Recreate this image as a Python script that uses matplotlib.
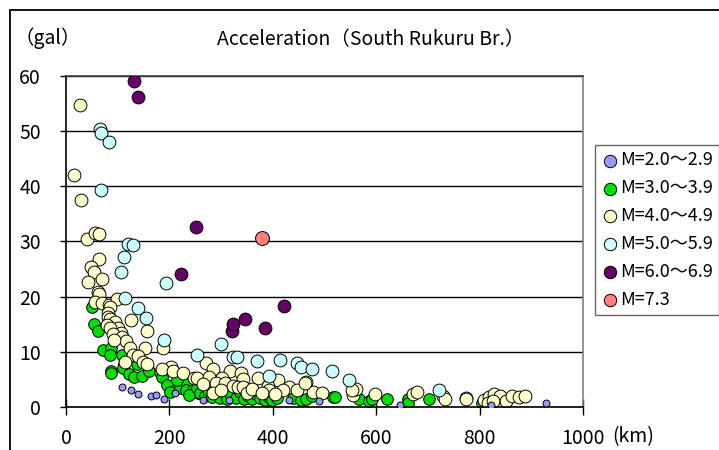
import matplotlib.pyplot as plt
from matplotlib.patches import Rectangle

# Fonts: Japanese gothic look, with fallback for plain latin glyphs:
plt.rcParams['font.family'] = ['Noto Sans CJK JP', 'DejaVu Sans']

# Distance (km) and acceleration (gal), one pair of lists per magnitude class:
m2_x = [108, 125, 139, 165, 174, 190, 211, 265, 316, 431, 490, 646, 823, 928]
m2_y = [3.7, 3.0, 2.4, 1.9, 2.2, 1.5, 2.5, 1.3, 1.3, 1.3, 1.1, 0.4, 0.4, 0.7]

m3_x = [50, 54, 61, 71, 88, 85, 109, 137, 113, 110, 88, 87, 122, 132, 147, 160, 182, 185,
        195, 201, 220, 232, 232, 215, 256, 245, 238, 253, 260, 268, 275, 282, 290, 298, 305,
        312, 320, 328, 336, 344, 352, 360, 368, 376, 384, 392, 398, 408, 440, 455, 465, 475,
        517, 521, 567, 587, 592, 620, 661, 661, 702, 805]
m3_y = [18.1, 15.0, 13.8, 10.3, 10.6, 9.5, 9.4, 7.7, 7.7, 7.1, 6.5, 6.2, 5.9, 5.5, 5.6, 6.6, 6.4, 5.5,
        4.0, 2.8, 3.4, 4.4, 3.1, 4.9, 2.5, 3.0, 2.2, 3.5, 2.5, 2.0, 3.0, 1.8, 2.5, 1.6, 2.8,
        1.5, 2.2, 1.7, 2.8, 1.5, 2.0, 1.4, 2.3, 1.6, 1.2, 1.8, 1.2, 1.6, 1.6, 1.3, 1.5, 1.9,
        1.8, 1.8, 1.4, 1.1, 1.4, 1.5, 1.4, 0.8, 1.4, 0.7]

m4_x = [28, 16, 29, 41, 56, 64, 64, 48, 55, 70, 42, 61, 64, 56, 70, 83, 99, 85, 81, 82, 85,
        126, 95, 80, 101, 86, 157, 107, 91, 109, 117, 93, 188, 153, 124, 129, 139, 149, 157,
        114, 203, 185, 207, 227, 248, 270, 285, 318, 338, 254, 276, 301, 343, 372, 411, 464,
        265, 291, 307, 432, 447, 478, 391, 392, 323, 332, 343, 420, 462, 495, 555, 560, 553,
        598, 671, 678, 730, 734, 774, 774, 808, 819, 828, 839, 852, 863, 877, 888, 816, 826,
        285, 300, 350, 360, 380, 405]
m4_y = [54.8, 42.0, 37.5, 30.4, 31.5, 31.4, 26.8, 25.3, 24.5, 23.2, 22.7, 20.9, 20.5, 19.1, 18.9,
        18.5, 19.5, 18.2, 17.1, 16.4, 15.9, 15.7, 15.4, 14.9, 14.4, 14.3, 13.8, 13.5, 13.2, 12.6,
        12.0, 12.1, 10.6, 10.6, 10.6, 9.4, 9.2, 8.1, 7.7, 8.2, 7.3, 6.8, 6.5, 6.1, 5.3, 7.9, 6.8,
        6.5, 6.1, 5.3, 5.4, 5.3, 5.1, 5.2, 4.9, 4.5, 4.2, 4.3, 4.3, 3.7, 3.1, 2.8, 3.8, 3.1, 3.8,
        3.7, 3.6, 3.1, 4.3, 2.5, 2.2, 3.2, 3.0, 2.3, 2.4, 2.7, 2.0, 1.4, 1.7, 1.4, 1.3, 1.8, 2.4,
        2.0, 1.0, 2.0, 1.8, 1.9, 0.8, 1.0, 2.6, 3.0, 2.6, 3.3, 2.6, 2.4]

m5_x = [66, 67, 83, 68, 120, 130, 112, 106, 193, 115, 139, 154, 190, 253, 299, 323, 330, 370,
        414, 446, 455, 475, 392, 515, 547, 721]
m5_y = [50.4, 49.6, 48.0, 39.3, 29.5, 29.3, 27.2, 24.5, 22.5, 19.8, 18.0, 16.1, 12.1, 9.4, 11.5,
        9.0, 9.0, 8.4, 8.5, 7.9, 7.3, 6.9, 5.6, 6.6, 4.8, 3.1]

m6_x = [131, 139, 222, 251, 321, 324, 346, 385, 422]
m6_y = [59.0, 56.2, 24.1, 32.6, 13.8, 15.0, 16.0, 14.3, 18.3]

m7_x = [379]
m7_y = [30.6]

labels = ['M=2.0～2.9', 'M=3.0～3.9', 'M=4.0～4.9', 'M=5.0～5.9', 'M=6.0～6.9', 'M=7.3']
colors = ['#9999FF', '#00E000', '#FFFFCC', '#CCFFFF', '#660066', '#FF8080']

fig = plt.figure(figsize=(7.19, 4.5), dpi=100)
ax = fig.add_axes([0.0918, 0.0956, 0.7190, 0.7356])

# Draw order: green at the back, then yellow, cyan, blue, purple, red:
series = [(m2_x, m2_y, 25, 5), (m3_x, m3_y, 70, 1), (m4_x, m4_y, 85, 2),
          (m5_x, m5_y, 85, 3), (m6_x, m6_y, 85, 6), (m7_x, m7_y, 100, 7)]
handles = []
for (xs, ys, size, z), label, color in zip(series, labels, colors):
    h = ax.scatter(xs, ys, s=size, c=color, edgecolors='black', linewidths=0.7,
                   label=label, zorder=z)
    handles.append(h)

ax.set_xlim(0, 1000)
ax.set_ylim(0, 60)
ax.set_xticks([0, 200, 400, 600, 800, 1000])
ax.set_yticks([0, 10, 20, 30, 40, 50, 60])
ax.yaxis.grid(True, color='black', linewidth=1.0)
ax.set_axisbelow(True)
ax.tick_params(axis='x', direction='inout', length=12, width=1, labelsize=14, pad=9)
ax.tick_params(axis='y', direction='out', length=4, width=1, labelsize=14, pad=14)
ax.spines['left'].set_color('black')
ax.spines['bottom'].set_color('black')
ax.spines['top'].set_color('#404040')
ax.spines['right'].set_color('#808080')
for s in ax.spines.values():
    s.set_linewidth(1.2)

# Texts around the plot:
fig.text(0.067, 0.916, '（gal）', ha='center', va='center', fontsize=14)
fig.text(0.516, 0.911, 'Acceleration（South Rukuru Br.）', ha='center', va='center', fontsize=14)
fig.text(612 / 719, 1 - 437 / 450, '(km)', ha='left', va='center', fontsize=14)

# Legend box on the right:
leg = ax.legend(handles=handles, loc='upper left', bbox_to_anchor=(595 / 719, 1 - 145 / 450),
                bbox_transform=fig.transFigure, frameon=True, fancybox=False, fontsize=13,
                handletextpad=0.05, labelspacing=0.55, borderpad=0.35, handlelength=1.0,
                borderaxespad=0, scatterpoints=1)
leg.get_frame().set_edgecolor('#404040')
leg.get_frame().set_linewidth(1.0)
for lh in leg.legend_handles:
    lh.set_sizes([80])

# Outer chart border that runs off the right and bottom edges:
fig.patches.append(Rectangle((10 / 719, -0.1), 1.2, 1.1 - 10 / 450, transform=fig.transFigure,
                             fill=False, edgecolor='black', linewidth=1.3))

plt.savefig('out.png', dpi=100)
